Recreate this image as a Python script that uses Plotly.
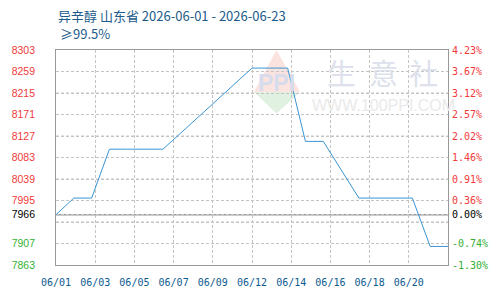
import pandas as pd
import plotly.graph_objects as go

# ---- data ----
dates = ["2026-06-01", "2026-06-02", "2026-06-03", "2026-06-04", "2026-06-05", "2026-06-06",
         "2026-06-07", "2026-06-08", "2026-06-09", "2026-06-10", "2026-06-11", "2026-06-12",
         "2026-06-13", "2026-06-14", "2026-06-15", "2026-06-16", "2026-06-17", "2026-06-18",
         "2026-06-19", "2026-06-20", "2026-06-21", "2026-06-22", "2026-06-23"]
prices = [7966, 8000, 8000, 8100, 8100, 8100, 8100, 8133, 8166, 8200, 8233, 8266,
          8266, 8266, 8116, 8116, 8058, 8000, 8000, 8000, 8000, 7901, 7901]
base_price = 7966

x_tick_labels = ["06/01", "06/03", "06/05", "06/07", "06/09", "06/12", "06/14", "06/16", "06/18", "06/20"]
left_tick_values = [8303, 8259, 8215, 8171, 8127, 8083, 8039, 7995, 7966, 7907, 7863]
grid_only_values = [7951]
right_tick_labels = ["4.23%", "3.67%", "3.12%", "2.57%", "2.02%", "1.46%", "0.91%", "0.36%",
                     "0.00%", "-0.74%", "-1.30%"]

title_line1 = "异辛醇 山东省 2026-06-01 - 2026-06-23"
title_line2 = "≥99.5%"

# ---- styling ----
RED = "#f03a3a"
GREEN = "#35b035"
BLACK = "#000000"
LINE = "#3a96d6"
GRID = "#c4c4c4"
FRAME = "#999999"
BLUE_TXT = "#1c5b8c"

start = pd.Timestamp(dates[0])
end = pd.Timestamp(dates[-1])
span = end - start
x_tick_pos = [start + span * k / len(x_tick_labels) for k in range(len(x_tick_labels))]
y_lo, y_hi = min(left_tick_values), max(left_tick_values)

groups = {
    "up": ([v for v in left_tick_values if v > base_price], RED),
    "base": ([v for v in left_tick_values if v == base_price], BLACK),
    "down": ([v for v in left_tick_values if v < base_price], GREEN),
}
pct_of = dict(zip(left_tick_values, right_tick_labels))

fig = go.Figure()
fig.add_trace(go.Scatter(x=dates, y=prices, mode="lines",
                         line=dict(color=LINE, width=1), hoverinfo="skip", showlegend=False))

layout_axes = {}
axis_no = 2
for key, (vals, color) in groups.items():
    for side in ("left", "right"):
        name = f"y{axis_no}"
        fig.add_trace(go.Scatter(x=dates, y=prices, mode="lines", yaxis=name,
                                 line=dict(color="rgba(0,0,0,0)", width=0),
                                 hoverinfo="skip", showlegend=False))
        if side == "left":
            text = [str(v) for v in vals]
            font = dict(family="Liberation Sans", size=10.5, color=color)
            standoff = 20
        else:
            text = [pct_of[v] for v in vals]
            font = dict(family="DejaVu Sans Mono", size=10, color=color)
            standoff = 3
        layout_axes[f"yaxis{axis_no}"] = dict(
            range=[y_lo, y_hi], overlaying="y", side=side, anchor="x",
            tickmode="array", tickvals=vals, ticktext=text,
            showgrid=False, zeroline=False, showline=False, ticks="",
            ticklabelstandoff=standoff, tickfont=font,
        )
        axis_no += 1

# horizontal dashed grid lines at the y tick values (through the y scale)
grid_shapes = [
    dict(type="line", xref="paper", x0=0, x1=1, yref="y", y0=v, y1=v,
         line=dict(color=GRID, width=1, dash="3px,2px"), layer="below")
    for v in left_tick_values + grid_only_values
    if v not in (y_lo, y_hi, base_price)
]

fig.update_layout(
    width=500, height=300,
    margin=dict(l=50, r=50, t=50, b=30),
    paper_bgcolor="white", plot_bgcolor="white",
    xaxis=dict(
        type="date", range=[start, end],
        tickmode="array", tickvals=x_tick_pos, ticktext=x_tick_labels,
        showgrid=True, gridcolor=GRID, griddash="3px,2px", gridwidth=1,
        showline=True, linecolor=FRAME, linewidth=1, mirror=True,
        ticks="", ticklabelstandoff=8,
        tickfont=dict(family="DejaVu Sans Mono", size=10, color="#0d5a90"),
        zeroline=False,
    ),
    yaxis=dict(
        range=[y_lo, y_hi],
        tickmode="array", tickvals=left_tick_values + grid_only_values,
        showticklabels=False,
        showgrid=True, gridcolor=GRID, griddash="3px,2px", gridwidth=1,
        showline=True, linecolor=FRAME, linewidth=1, mirror=True,
        ticks="", zeroline=False,
    ),
    shapes=grid_shapes + [
        dict(type="line", xref="paper", x0=0, x1=1, yref="y", y0=base_price, y1=base_price,
             line=dict(color=FRAME, width=1.5), layer="below"),
        dict(type="path", xref="paper", yref="paper",
             path="M 0.5625 1.0 L 0.6225 0.8045 L 0.505 0.8045 Z",
             fillcolor="#fbe3df", line=dict(width=0), layer="below"),
        dict(type="path", xref="paper", yref="paper",
             path="M 0.505 0.8045 L 0.6225 0.8045 L 0.5625 0.7045 Z",
             fillcolor="#e0f1e1", line=dict(width=0), layer="below"),
    ],
    annotations=[
        dict(text=title_line1, xref="paper", yref="paper", x=0, y=(270 - 15) / 220,
             xanchor="left", yanchor="middle", showarrow=False,
             font=dict(family="Noto Sans CJK SC", size=13, color=BLUE_TXT)),
        dict(text=title_line2, xref="paper", yref="paper", x=0.005, y=(270 - 33) / 220,
             xanchor="left", yanchor="middle", showarrow=False,
             font=dict(family="Noto Sans CJK SC", size=13, color=BLUE_TXT)),
        dict(text="<b>PPI</b>", xref="paper", yref="paper", x=(275 - 50) / 400, y=(270 - 84) / 220,
             xanchor="center", yanchor="middle", showarrow=False,
             font=dict(family="Liberation Sans", size=23, color="#d6dcec")),
        dict(text="生", xref="paper", yref="paper", x=(341 - 50) / 400, y=(270 - 72) / 220,
             xanchor="center", yanchor="middle", showarrow=False,
             font=dict(family="Noto Sans CJK SC", size=29, color="#dde1ec")),
        dict(text="意", xref="paper", yref="paper", x=(384 - 50) / 400, y=(270 - 72) / 220,
             xanchor="center", yanchor="middle", showarrow=False,
             font=dict(family="Noto Sans CJK SC", size=29, color="#dde1ec")),
        dict(text="社", xref="paper", yref="paper", x=(425 - 50) / 400, y=(270 - 72) / 220,
             xanchor="center", yanchor="middle", showarrow=False,
             font=dict(family="Noto Sans CJK SC", size=29, color="#dde1ec")),
        dict(text="WWW.100PPI.COM", xref="paper", yref="paper", x=(384 - 50) / 400, y=(270 - 107) / 220,
             xanchor="center", yanchor="middle", showarrow=False,
             font=dict(family="Liberation Sans", size=16, color="#eaeaea")),
    ],
    **layout_axes,
)

fig.write_html("out.html")
